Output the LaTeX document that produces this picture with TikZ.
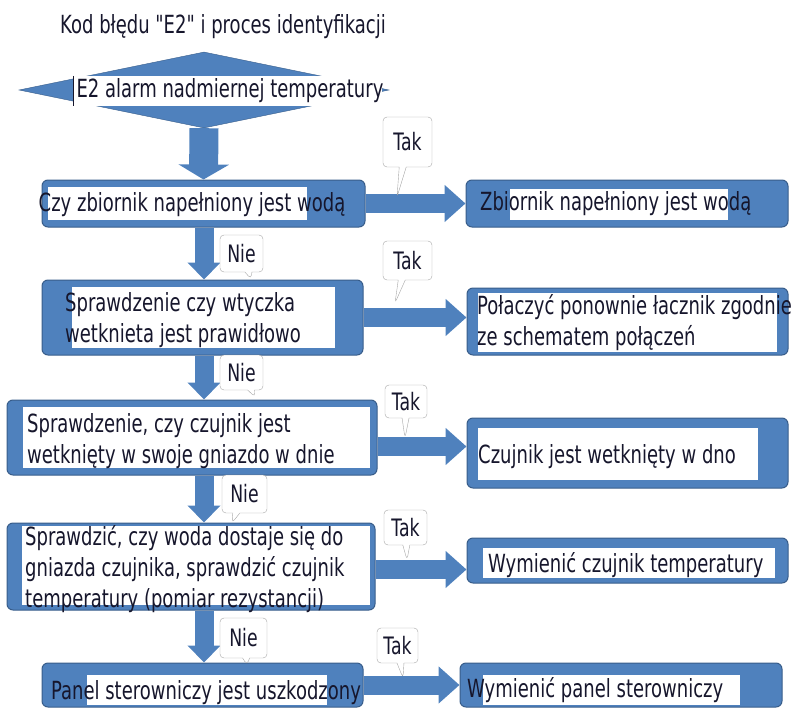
\documentclass[tikz,border=0pt]{standalone}
\usepackage{fontspec}
\newfontfamily\flowfont[FakeStretch=0.72]{DejaVu Sans}
\usetikzlibrary{arrows.meta, shapes.geometric, shapes.callouts}
\definecolor{flowblue}{RGB}{79,129,189}
\definecolor{flowedge}{RGB}{56,93,138}
\definecolor{flowtext}{RGB}{22,22,44}

\begin{document}
\begin{tikzpicture}[
  x=1pt, y=-1pt,
  box/.style={draw=flowedge, fill=flowblue, rounded corners=6pt, line width=1pt, inner sep=0pt},
  decision/.style={diamond, draw=flowedge, fill=flowblue, inner sep=0pt, shape aspect=5},
  txt/.style={font=\flowfont\fontsize{25}{31}\selectfont, text=flowtext, inner sep=0pt, align=left},
  bubble/.style={rectangle callout, draw=gray!70, fill=white, rounded corners=4pt,
    callout pointer width=7pt, inner sep=0pt, text=flowtext,
    font=\flowfont\fontsize{24}{26}\selectfont},
  bigdown/.style={line width=29pt, flowblue, -{Triangle[width=50pt,length=15pt]}},
  todown/.style={line width=19pt, flowblue, -{Triangle[width=32pt,length=17pt]}},
  toright/.style={line width=19pt, flowblue, -{Triangle[width=36pt,length=21pt]}},
]
  \useasboundingbox (0,0) rectangle (798,709);

  % tytul i romb startowy
  \node[txt] (title) at (223,27) {Kod błędu "E2" i proces identyfikacji};
  \node[decision, minimum width=370pt, minimum height=76pt] (dia) at (204,90) {};
  \fill[white] (73,76) rectangle (382,106);
  \draw[flowtext, line width=1pt] (73,76) -- (73,106);
  \node[txt] (start) at (230,91) {E2 alarm nadmiernej temperatury};

  % lewa kolumna: pytania
  \node[box, minimum width=323pt, minimum height=47pt] (b1) at (203.5,203.5) {};
  \node[box, minimum width=321pt, minimum height=75pt] (b2) at (202.5,317.5) {};
  \node[box, minimum width=370pt, minimum height=75pt] (b3) at (192,437.5) {};
  \node[box, minimum width=368pt, minimum height=87pt] (b4) at (191,566.5) {};
  \node[box, minimum width=321pt, minimum height=44pt] (b5) at (202.5,685) {};

  % prawa kolumna: dzialania
  \node[box, minimum width=322pt, minimum height=47pt] (r1) at (627,203.5) {};
  \node[box, minimum width=321pt, minimum height=67pt] (r2) at (627.5,321.5) {};
  \node[box, minimum width=321pt, minimum height=70pt] (r3) at (627.5,453) {};
  \node[box, minimum width=321pt, minimum height=45pt] (r4) at (627.5,560.5) {};
  \node[box, minimum width=322pt, minimum height=44pt] (r5) at (621,685) {};

  % biale podklady pod tekstem
  \foreach \a/\b in {{48,187}/{307,220}, {72,287}/{335,348}, {23,407}/{370,468},
                     {22,526}/{370,605}, {87,675}/{327,705},
                     {510,189}/{728,220}, {478,293}/{777,352}, {478,428}/{758,480},
                     {483,548}/{775,578}, {483,675}/{740,705}}
    \fill[white] (\a) rectangle (\b);

  \node[txt] (t1) at (192,205) {Czy zbiornik napełniony jest wodą};
  \node[txt, anchor=west] (t2) at (65,320) {Sprawdzenie czy wtyczka\\wetknieta jest prawidłowo};
  \node[txt, anchor=west] (t3) at (27,441) {Sprawdzenie, czy czujnik jest\\wetknięty w swoje gniazdo w dnie};
  \node[txt, anchor=west] (t4) at (25,569) {Sprawdzić, czy woda dostaje się do\\gniazda czujnika, sprawdzić czujnik\\temperatury (pomiar rezystancji)};
  \node[txt] (t5) at (206,693) {Panel sterowniczy jest uszkodzony};

  \node[txt, anchor=west] (s1) at (480,204) {Zbiornik napełniony jest wodą};
  \node[txt, anchor=west] (s2) at (477,323) {Połaczyć ponownie łacznik zgodnie\\ze schematem połączeń};
  \node[txt, anchor=west] (s3) at (478,457) {Czujnik jest wetknięty w dno};
  \node[txt, anchor=west] (s4) at (488,565) {Wymienić czujnik temperatury};
  \node[txt, anchor=west] (s5) at (467,690) {Wymienić panel sterowniczy};

  % strzalki w dol (Nie)
  \draw[bigdown] (dia.south) -- (b1.north);
  \draw[todown] (b1.south -| dia.south) -- (b2.north -| dia.south);
  \draw[todown] (b2.south -| dia.south) -- (b3.north -| dia.south);
  \draw[todown] (b3.south -| dia.south) -- (b4.north -| dia.south);
  \draw[todown] (b4.south -| dia.south) -- (b5.north -| dia.south);

  % strzalki w prawo (Tak)
  \draw[toright] (b1.east) -- (r1.west);
  \draw[toright] (b2.east) -- (b2.east -| r2.west);
  \draw[toright] ([yshift=-9pt]b3.east) -- ([yshift=-9pt]b3.east -| r3.west);
  \draw[toright] ([yshift=-3pt]b4.east) -- ([yshift=-3pt]b4.east -| r4.west);
  \draw[toright] (b5.east) -- (b5.east -| r5.west);

  % dymki z odpowiedziami
  \foreach \n/\lab/\pos/\tip/\w/\h in {
      tak1/Tak/{407.5,142}/{397,197}/49/50,
      tak2/Tak/{407.5,260.5}/{395,303}/49/39,
      tak3/Tak/{406,401.5}/{405,438}/42/33,
      tak4/Tak/{405.5,527.5}/{407,560}/43/35,
      tak5/Tak/{397.5,645.5}/{403,678}/41/35,
      nie1/Nie/{241.5,253.5}/{251,279}/43/37,
      nie2/Nie/{241.5,372.5}/{255,397}/43/35,
      nie3/Nie/{244.5,494}/{232,523}/45/38,
      nie4/Nie/{243.5,638}/{247,665}/47/40}
    \node[bubble, minimum width=\w pt, minimum height=\h pt,
          callout absolute pointer={(\tip)}] (\n) at (\pos) {\lab};
\end{tikzpicture}
\end{document}
